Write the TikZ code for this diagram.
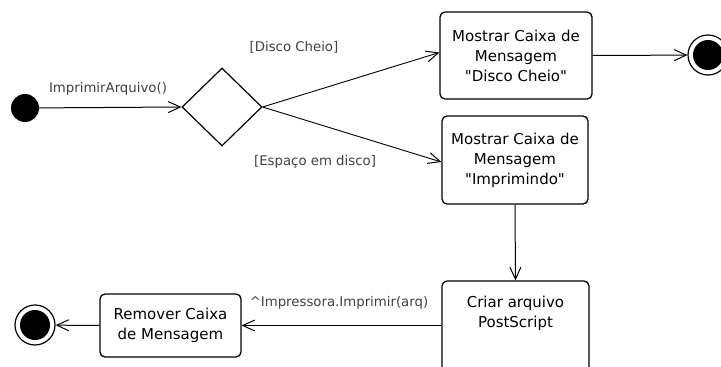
\documentclass[tikz,border=0pt]{standalone}
\usepackage{fontspec}
\setmainfont{DejaVu Sans}
\newfontfamily\boxfont{DejaVu Sans}
\usetikzlibrary{shapes.geometric,arrows.meta}
\tikzset{
  act/.style={draw, line width=1.3pt, rounded corners=5pt, align=center, inner sep=0pt,
    font=\boxfont\fontsize{15}{20}\selectfont, fill=white},
  lbl/.style={font=\fontsize{13.3}{15}\selectfont, text=black!75, inner sep=0pt},
  flow/.style={line width=1pt, -{Straight Barb[length=12pt,width=11pt,line width=1pt]}},
  dflow/.style={line width=0.9pt, -{Straight Barb[length=12pt,width=11pt,line width=1pt]}}
}
\begin{document}
\begin{tikzpicture}[x=1pt,y=-1pt]
\useasboundingbox (0,0) rectangle (721,367);
% start
\node[circle, fill=black, minimum size=28pt, inner sep=0] (start) at (25,108) {};
% decision
\node[diamond, draw, line width=1.2pt, minimum width=80pt, minimum height=78pt, inner sep=0] (dec) at (222,107) {};
% activities
\node[act, minimum width=152pt, minimum height=87pt] (b1) at (516,55.5) {Mostrar Caixa de\\Mensagem\\"Disco Cheio"};
\node[act, minimum width=146pt, minimum height=88pt] (b2) at (515,160) {Mostrar Caixa de\\Mensagem\\"Imprimindo"};
\node[act, minimum width=147pt, minimum height=120pt] (b3) at (515.5,341) {};
\node[font=\boxfont\fontsize{15}{20}\selectfont, align=center, inner sep=0] (b3t) at (515.5,313) {Criar arquivo\\PostScript};
\node[act, minimum width=141pt, minimum height=63pt] (b4) at (170.5,325.5) {Remover Caixa\\de Mensagem};
% final states
\node[circle, draw, line width=1.2pt, minimum size=40pt, inner sep=0] (f1) at (708,55) {};
\node[circle, fill=black, minimum size=30pt, inner sep=0] at (f1) {};
\node[circle, draw, line width=1.2pt, minimum size=40pt, inner sep=0] (f2) at (35,325) {};
\node[circle, fill=black, minimum size=30pt, inner sep=0] at (f2) {};
% connectors
\draw[flow] (start) -- (dec.west);
\draw[dflow] (dec.east) -- ([yshift=3pt]b1.west);
\draw[dflow] (dec.east) -- ([yshift=-2pt]b2.west);
\draw[flow] (b1.east) -- (f1);
\draw[flow] (b2.south) -- (b3.north);
\draw[flow] (b3.west |- b4.east) -- (b4.east);
\draw[flow] (b4.west) -- (f2);
% labels
\node[lbl] (l1) at (108,89) {ImprimirArquivo()};
\node[lbl] (l2) at (294,47) {[Disco Cheio]};
\node[lbl] (l3) at (315,162) {[Espaço em disco]};
\node[lbl] (l4) at (339,303) {\textasciicircum Impressora.Imprimir(arq)};
\end{tikzpicture}
\end{document}
